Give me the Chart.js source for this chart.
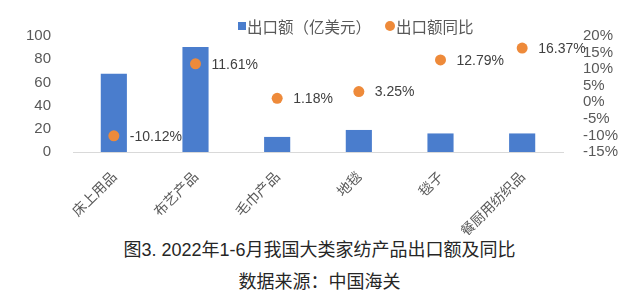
<!DOCTYPE html>
<html>
<head>
<meta charset="utf-8">
<script src="https://cdn.jsdelivr.net/npm/chart.js@4"></script>
<style>
  body { margin: 0; background: #fff; }
  #wrap { position: relative; width: 639px; height: 300px; font-family: "Noto Sans CJK SC", sans-serif; }
  #box { position: absolute; left: 0; top: 0; width: 639px; height: 235px; }
  .cap { position: absolute; left: 0; width: 639px; text-align: center; color: #262626; font-size: 18px; line-height: 20px;
         font-family: "Liberation Sans", "Noto Sans CJK SC", sans-serif; }
  .lg { position: absolute; font-size: 15.5px; line-height: 18px; color: #595959; white-space: nowrap; }
  .mk { position: absolute; }
</style>
</head>
<body>
<div id="wrap">
  <div id="box"><canvas id="myChart"></canvas></div>
  <div class="mk" style="left:238px;top:22px;width:8px;height:8px;background:#4a7dcd"></div>
  <div class="lg" style="left:247px;top:17px">出口额（亿美元）</div>
  <div class="mk" style="left:385px;top:21px;width:10px;height:10px;border-radius:50%;background:#ee8a3a"></div>
  <div class="lg" style="left:396px;top:17px">出口额同比</div>
  <div class="cap" style="top:240px">图3. 2022年1-6月我国大类家纺产品出口额及同比</div>
  <div class="cap" style="top:272px">数据来源：中国海关</div>
</div>
<script>
// 数据
const categories = ["床上用品", "布艺产品", "毛巾产品", "地毯", "毯子", "餐厨用纺织品"];
const exportValue = [67.5, 90.5, 13, 19, 16, 16];
const yoyRate = [-10.12, 11.61, 1.18, 3.25, 12.79, 16.37];
const leftTicks = [0, 20, 40, 60, 80, 100];
const rightTicks = [-15, -10, -5, 0, 5, 10, 15, 20];

const fontCJK = '"Noto Sans CJK SC", sans-serif';
const fontNum = '"Liberation Sans", Arial, sans-serif';
const tickColor = "#595959";

// 点旁边的百分比标签
const pointLabels = {
  id: "pointLabels",
  afterDatasetsDraw(chart) {
    const ctx = chart.ctx;
    const meta = chart.getDatasetMeta(1);
    ctx.save();
    ctx.font = "14px " + fontNum;
    ctx.fillStyle = "#404040";
    ctx.textAlign = "left";
    ctx.textBaseline = "middle";
    meta.data.forEach((pt, i) => {
      ctx.fillText(yoyRate[i].toFixed(2) + "%", pt.x + 16, pt.y + 1);
    });
    ctx.restore();
  },
};

const ctx = document.getElementById("myChart").getContext("2d");
new Chart(ctx, {
  data: {
    labels: categories,
    datasets: [
      {
        type: "bar",
        label: "出口额（亿美元）",
        data: exportValue,
        backgroundColor: "#4a7dcd",
        barPercentage: 0.64,
        categoryPercentage: 0.5,
        yAxisID: "y",
        order: 2,
      },
      {
        type: "line",
        label: "出口额同比",
        data: yoyRate,
        showLine: false,
        pointRadius: 5.5,
        pointBackgroundColor: "#ee8a3a",
        pointBorderWidth: 0,
        backgroundColor: "#ee8a3a",
        yAxisID: "y1",
        order: 1,
      },
    ],
  },
  options: {
    responsive: true,
    maintainAspectRatio: false,
    animation: false,
    layout: { padding: { top: 36, left: 0, right: 0 } },
    plugins: {
      tooltip: { enabled: false },
      legend: { display: false },
    },
    scales: {
      x: {
        grid: { display: false },
        border: { color: "#d9d9d9" },
        ticks: {
          color: tickColor,
          minRotation: 45,
          maxRotation: 45,
          padding: 8,
          font: { family: fontCJK, size: 14 },
        },
        afterFit(scale) { scale.height = 83; },
      },
      y: {
        position: "left",
        min: 0,
        max: 100,
        grid: { display: false },
        border: { display: false },
        afterBuildTicks(scale) { scale.ticks = leftTicks.map((v) => ({ value: v })); },
        ticks: {
          autoSkip: false,
          color: tickColor,
          padding: 14,
          font: { family: fontNum, size: 15 },
        },
        afterFit(scale) { scale.width = 73; },
      },
      y1: {
        position: "right",
        min: -15,
        max: 20,
        grid: { display: false },
        border: { display: false },
        afterBuildTicks(scale) { scale.ticks = rightTicks.map((v) => ({ value: v })); },
        ticks: {
          autoSkip: false,
          color: tickColor,
          padding: 12,
          font: { family: fontNum, size: 15 },
          callback: (v) => v + "%",
        },
        afterFit(scale) { scale.width = 76; },
      },
    },
  },
  plugins: [pointLabels],
});
</script>
</body>
</html>
